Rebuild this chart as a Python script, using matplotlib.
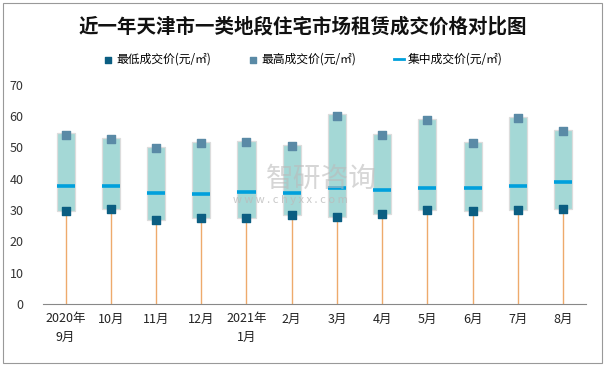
import matplotlib.pyplot as plt
import numpy as np
from matplotlib.patches import Rectangle

plt.rcParams['font.family'] = ['Noto Sans CJK SC', 'DejaVu Sans']

months = ['2020年\n9月', '10月', '11月', '12月', '2021年\n1月', '2月',
          '3月', '4月', '5月', '6月', '7月', '8月']
low_price = [29.7, 30.3, 26.8, 27.4, 27.4, 28.4, 27.7, 28.7, 30.0, 29.6, 30.0, 30.3]
high_price = [54.0, 52.6, 49.7, 51.3, 51.7, 50.4, 60.1, 53.9, 58.7, 51.4, 59.3, 55.2]
mid_price = [37.7, 37.7, 35.4, 35.0, 35.8, 35.4, 37.0, 36.3, 37.0, 37.0, 37.6, 38.9]

fig = plt.figure(figsize=(6.05, 3.66), dpi=100)
ax = fig.add_axes([0.071, 0.169, 0.897, 0.6])
x = np.arange(len(months))

# orange stems from zero up to the lowest price
ax.vlines(x, 0, low_price, color='#eeaa6c', lw=1.0, zorder=1)

# box spanning low..high
w = 0.4
for i in range(len(months)):
    ax.add_patch(Rectangle((x[i] - w / 2, low_price[i]), w, high_price[i] - low_price[i] + 0.4,
                           facecolor='#a4d8d6', edgecolor='#dcdcdc', lw=0.9, zorder=2))

ax.scatter(x, low_price, marker='s', s=36, color='#0b5e82', zorder=4, label='最低成交价(元/㎡)')
ax.scatter(x, high_price, marker='s', s=36, color='#5a8aa6', zorder=4, label='最高成交价(元/㎡)')
ax.hlines(mid_price, x - w / 2, x + w / 2, color='#00a0dc', lw=2.6, zorder=3)
ax.plot([], [], color='#00a0dc', lw=2, label='集中成交价(元/㎡)')

ax.set_xlim(-0.5, len(months) - 0.5)
ax.set_ylim(0, 70)
ax.set_yticks(range(0, 71, 10))
ax.set_xticks(x)
ax.set_xticklabels(months, fontsize=9, color='#222222', linespacing=1.5)
ax.tick_params(axis='y', labelsize=9, colors='#333333', length=0, pad=14)
ax.tick_params(axis='x', length=0, pad=6)
for s in ['top', 'right', 'left']:
    ax.spines[s].set_visible(False)
ax.spines['bottom'].set_color('#888888')

fig.suptitle('近一年天津市一类地段住宅市场租赁成交价格对比图', x=0.5, y=0.955,
             fontsize=14, fontweight='bold', color='#111111')
fig.legend(loc='center', bbox_to_anchor=(0.5, 0.838), ncol=3, frameon=False,
           fontsize=8.5, handlelength=0.8, handletextpad=0.3, columnspacing=3.2,
           markerscale=0.8)

# watermark
fig.text(0.44, 0.49, '智研咨询', fontsize=20, color='#bbbbbb', alpha=0.6, zorder=10)
fig.text(0.385, 0.445, 'w w w . c h y x x . c o m', fontsize=8, color='#bbbbbb', alpha=0.8, zorder=10)

# outer border
fig.patches.append(Rectangle((0.005, 0.008), 0.99, 0.985, transform=fig.transFigure,
                             fill=False, edgecolor='#999999', lw=0.8))

fig.savefig('out.png', dpi=100)
